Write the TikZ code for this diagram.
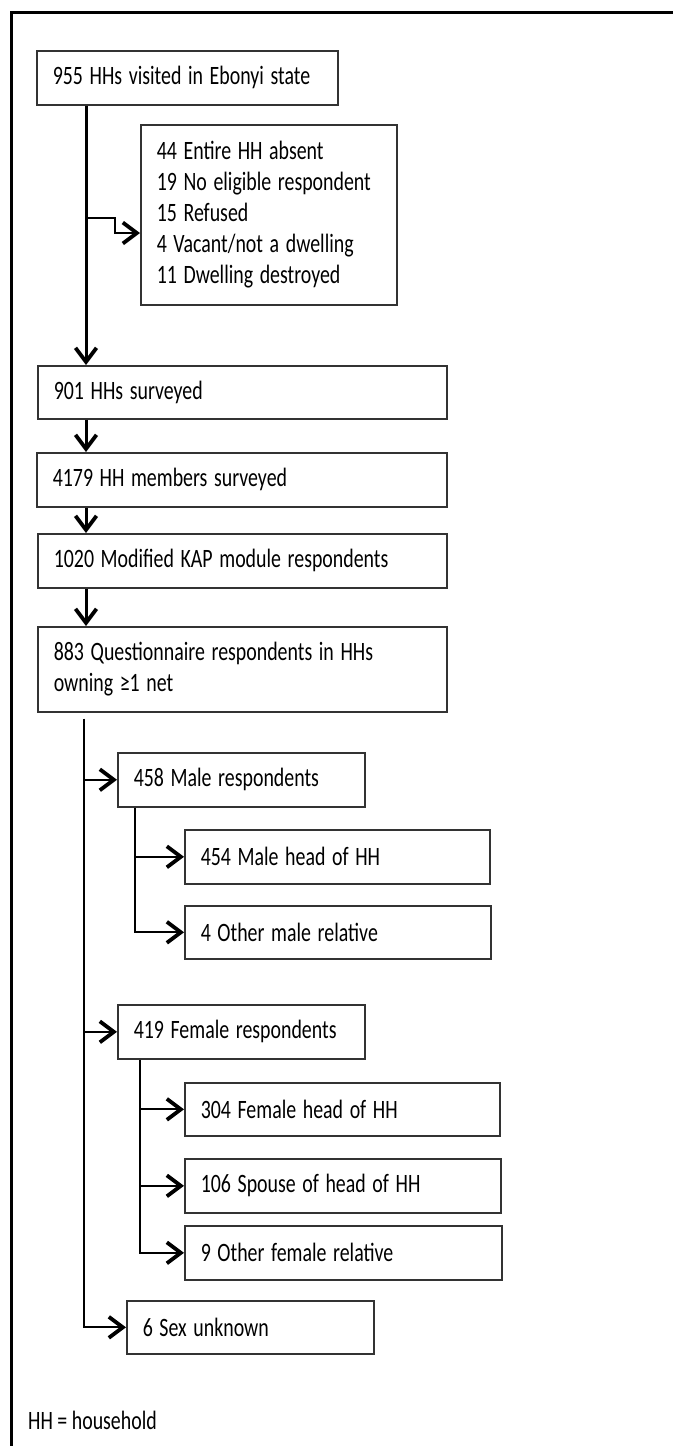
\documentclass[tikz,border=0pt]{standalone}
\usepackage{graphicx}
\usepackage{fontspec}
\setmainfont{Carlito}
\usetikzlibrary{arrows.meta}
\newcommand{\sq}[1]{\scalebox{0.75}[1]{#1}}
\begin{document}
\begin{tikzpicture}[x=1pt,y=-1pt,
  box/.style={draw=black!80, line width=1.6pt, anchor=north west, inner xsep=16pt, inner ysep=0pt, align=left, font=\fontsize{26.5}{31}\selectfont},
  tip/.style={-{Straight Barb[length=14pt,width=21pt,line width=3.8pt]}},
  mainln/.style={line width=3pt},
  brln/.style={line width=2pt},
  frame/.style={line width=3pt}]
\useasboundingbox (0,0) rectangle (673,1446);
\draw[frame] (11,1446) -- (11,12) -- (673,12);

\node[box, minimum width=301pt, minimum height=54pt, text width=269pt] (b1) at (36,50) {\sq{955 HHs visited in Ebonyi state}};
\node[box, minimum width=256pt, minimum height=180pt, text width=224pt] (ex) at (140,124) {\sq{44 Entire HH absent}\\\sq{19 No eligible respondent}\\\sq{15 Refused}\\\sq{4 Vacant/not a dwelling}\\\sq{11 Dwelling destroyed}};
\node[box, minimum width=409pt, minimum height=53pt, text width=377pt] (b2) at (37,365) {\sq{901 HHs surveyed}};
\node[box, minimum width=410pt, minimum height=54pt, text width=378pt] (b3) at (36,452) {\sq{4179 HH members surveyed}};
\node[box, minimum width=409pt, minimum height=54pt, text width=377pt] (b4) at (37,533) {\sq{1020 Modified KAP module respondents}};
\node[box, minimum width=409pt, minimum height=85pt, text width=377pt] (b5) at (37,626) {\sq{883 Questionnaire respondents in HHs}\\\sq{owning ≥1 net}};
\node[box, minimum width=247pt, minimum height=54pt, text width=215pt] (male) at (117,752) {\sq{458 Male respondents}};
\node[box, minimum width=305pt, minimum height=54pt, text width=273pt] (mh) at (184,829) {\sq{454 Male head of HH}};
\node[box, minimum width=306pt, minimum height=53pt, text width=274pt] (om) at (184,905) {\sq{4 Other male relative}};
\node[box, minimum width=247pt, minimum height=54pt, text width=215pt] (fem) at (117,1004) {\sq{419 Female respondents}};
\node[box, minimum width=315pt, minimum height=53pt, text width=283pt] (fh) at (184,1082) {\sq{304 Female head of HH}};
\node[box, minimum width=316pt, minimum height=54pt, text width=284pt] (sp) at (184,1158) {\sq{106 Spouse of head of HH}};
\node[box, minimum width=317pt, minimum height=54pt, text width=285pt] (of) at (184,1225) {\sq{9 Other female relative}};
\node[box, minimum width=247pt, minimum height=53pt, text width=215pt] (sx) at (126,1300) {\sq{6 Sex unknown}};
\node[anchor=west, inner sep=0pt, font=\fontsize{26.5}{31}\selectfont] (note) at (28,1420) {\sq{HH = household}};

\coordinate (t1) at (86,0);
\coordinate (e1) at (86,218);
\coordinate (e2) at (115,233);
\draw[mainln,tip] (b1.south -| t1) -- (b2.north -| t1);
\draw[brln,tip] (e1) -- (e1 -| e2) -- (e2) -- (e2 -| ex.west);
\draw[mainln,tip] (b2.south -| t1) -- (b3.north -| t1);
\draw[mainln,tip] (b3.south -| t1) -- (b4.north -| t1);
\draw[mainln,tip] (b4.south -| t1) -- (b5.north -| t1);

\coordinate (tr) at (84,0);
\draw[brln,tip] (b5.south -| tr) ++(0,6) |- (sx.west);
\draw[brln,tip] (tr |- male.west) -- (male.west);
\draw[brln,tip] (tr |- fem.west) -- (fem.west);

\coordinate (m) at (135,0);
\draw[brln,tip] (male.south -| m) |- (om.west);
\draw[brln,tip] (m |- mh.west) -- (mh.west);

\coordinate (f) at (140,0);
\draw[brln,tip] (fem.south -| f) |- (of.west);
\draw[brln,tip] (f |- fh.west) -- (fh.west);
\draw[brln,tip] (f |- sp.west) -- (sp.west);
\end{tikzpicture}
\end{document}
